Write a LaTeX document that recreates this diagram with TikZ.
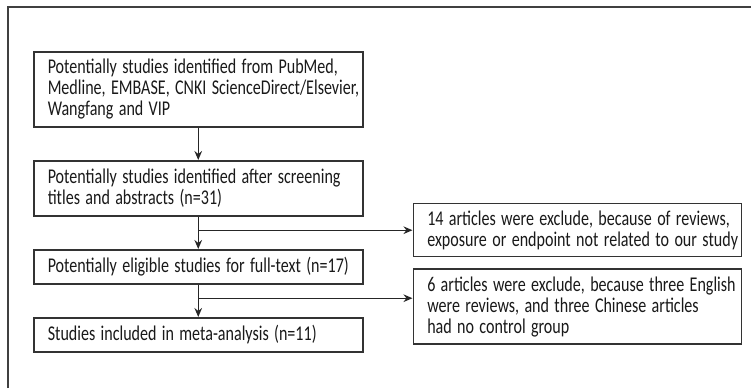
\documentclass[tikz,border=0pt]{standalone}
\usepackage{fontspec}
\usepackage{graphicx}
\setmainfont{Carlito}
\usetikzlibrary{positioning,arrows.meta}
% Narrow one line of text, as the condensed face of the reference
\newcommand{\narrow}[1]{\scalebox{0.765}[1]{#1}}
\begin{document}
\begin{tikzpicture}[font=\fontsize{10.5}{10.5}\selectfont, text=black!90]

% Fix the size of the picture
\useasboundingbox (0,0) rectangle (375.5pt,-194pt);

% Define styles for boxes and arrows
\tikzstyle{stage} = [draw=black!80, line width=0.75pt, text width=150.5pt, inner xsep=7pt, inner ysep=3.5pt, align=left]
\tikzstyle{side} = [stage, text width=150pt]
\tikzstyle{flow} = [draw=black!85, line width=0.7pt, -{Stealth[length=4.5pt, width=3.8pt]}]

% Frame, only top and left are seen
\draw[black!75, line width=0.7pt] (4pt,-194pt) |- (375.5pt,-3.5pt);

% Main column, top to bottom
\node[stage, minimum height=37.5pt, anchor=north west] (search) at (16.5pt,-25.5pt)
    {\narrow{Potentially studies identified from PubMed,}\\
     \narrow{Medline, EMBASE, CNKI ScienceDirect/Elsevier,}\\
     \narrow{Wangfang and VIP}};
\node[stage, minimum height=27.5pt, below=16.25pt of search] (screen)
    {\narrow{Potentially studies identified after screening}\\
     \narrow{titles and abstracts (n=31)}};
\node[stage, minimum height=17pt, below=16.25pt of screen] (eligible)
    {\narrow{Potentially eligible studies for full-text (n=17)}};
\node[stage, minimum height=17pt, below=16.25pt of eligible] (included)
    {\narrow{Studies included in meta-analysis (n=11)}};

% Branch points for the exclusions
\coordinate[below=6.85pt of screen.south] (split1);
\coordinate[below=6.85pt of eligible.south] (split2);
\coordinate (gap1) at (split1 -| screen.east);

% Excluded articles
\node[side, minimum height=26.5pt, right=24.5pt of gap1] (excl1)
    {\narrow{14 articles were exclude, because of reviews,}\\
     \narrow{exposure or endpoint not related to our study}};
\node[side, minimum height=37.5pt, below=5.5pt of excl1] (excl2)
    {\narrow{6 articles were exclude, because three English}\\
     \narrow{were reviews, and three Chinese articles}\\
     \narrow{had no control group}};

% Arrows
\draw[flow] (search) -- (screen);
\draw[flow] (screen) -- (eligible);
\draw[flow] (eligible) -- (included);
\draw[flow] (split1) -- (excl1.west);
\draw[flow] (split2) -- (split2 -| excl2.west);

\end{tikzpicture}
\end{document}
